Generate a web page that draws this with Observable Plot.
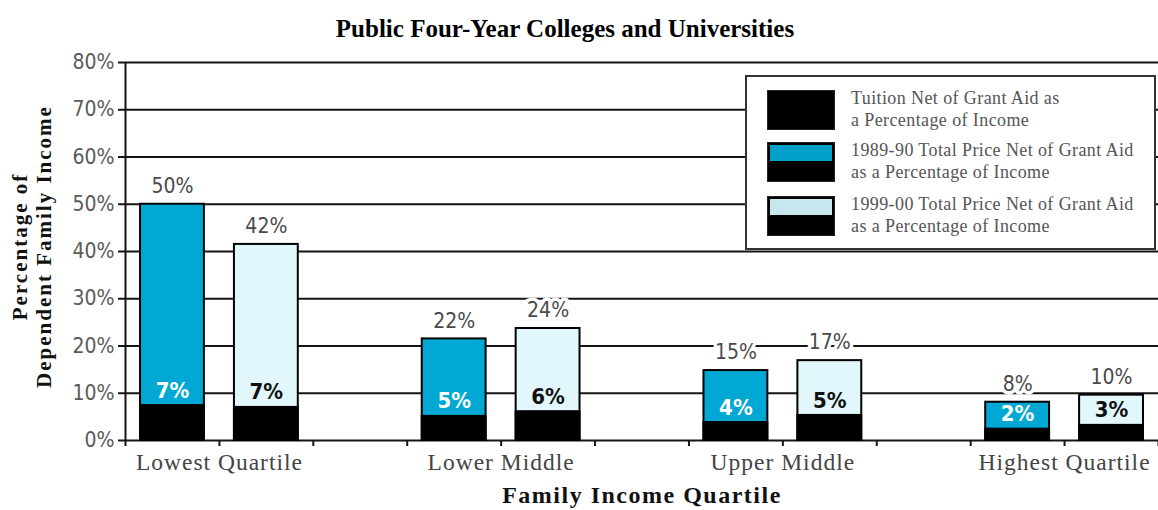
<!DOCTYPE html>
<html>
<head>
<meta charset="utf-8">
<script src="https://cdn.jsdelivr.net/npm/d3@7"></script>
<script src="https://cdn.jsdelivr.net/npm/@observablehq/plot@0.6"></script>
<style>
  html, body { margin: 0; padding: 0; background: #fff; }
  #wrap { position: relative; width: 1158px; height: 510px; overflow: hidden; }
  #title { height: 48px; width: 1130px; text-align: center; font-family: "Liberation Serif", "Times New Roman", serif;
           font-weight: bold; font-size: 25px; line-height: 58px; color: #000; }
  #legend { position: absolute; left: 745px; top: 75px; width: 407px; height: 171px; border: 2px solid #333;
            background: #fff; font-family: "Liberation Serif", serif; font-size: 18px; letter-spacing: 0.4px; color: #555; }
  .item { position: absolute; left: 20px; }
  .sw { position: absolute; left: 0; top: 0; width: 68px; height: 40px; border: 1px solid #222; box-sizing: border-box; background: #000; }
  .sw .top { position: absolute; left: 2px; right: 2px; top: 2px; height: 16px; }
  .txt { position: absolute; left: 84px; top: -2px; white-space: nowrap; line-height: 21.5px; }
</style>
</head>
<body>
<div id="wrap">
  <div id="title">Public Four-Year Colleges and Universities</div>
  <div id="chart"></div>
  <div id="legend"></div>
</div>
<script>
const quartiles = ["Lowest Quartile", "Lower Middle", "Upper Middle", "Highest Quartile"];
const seriesNames = ["1989-90", "1999-00"];
const total1989 = [50, 21.5, 14.8, 8.1];
const tuition1989 = [7.4, 5.1, 3.8, 2.4];
const total1999 = [41.5, 23.7, 16.9, 9.6];
const tuition1999 = [7.0, 6.1, 5.3, 3.2];
const yTicks = [0, 10, 20, 30, 40, 50, 60, 70, 80];
const xTitle = "Family Income Quartile";
const yTitle = "Percentage of\nDependent Family Income";
const legendLabels = [
  "Tuition Net of Grant Aid as<br>a Percentage of Income",
  "1989-90 Total Price Net of Grant Aid<br>as a Percentage of Income",
  "1999-00 Total Price Net of Grant Aid<br>as a Percentage of Income"
];

const colors = {"1989-90": "#00a8d3", "1999-00": "#e2f7fb"};
const legendColors = [null, "#00a0c8", "#c8e6ee"];
const labelColors = {"1989-90": "#ffffff", "1999-00": "#111111"};

const rows = quartiles.flatMap((q, i) => [
  {q, series: seriesNames[0], slot: i * 3, total: total1989[i], tuition: tuition1989[i]},
  {q, series: seriesNames[1], slot: i * 3 + 1, total: total1999[i], tuition: tuition1999[i]}
]);
const nSlots = quartiles.length * 3 - 1;

const sans = "'DejaVu Sans Condensed', 'DejaVu Sans', sans-serif";
const serif = "'Liberation Serif', serif";

const chart = Plot.plot({
  width: 1158,
  height: 462,
  marginLeft: 125,
  marginRight: 0,
  marginTop: 14,
  marginBottom: 70,
  style: {fontFamily: sans, background: "white"},
  x: {type: "linear", domain: [0, nSlots], axis: null},
  y: {domain: [0, 80], axis: null},
  marks: [
    Plot.ruleY(yTicks, {stroke: "#151515", strokeWidth: 2}),
    Plot.axisY({ticks: yTicks, tickSize: 7, tickPadding: 4, tickFormat: d => d + "%", stroke: "#151515",
                strokeWidth: 2, fill: "#5a5a5a", fontSize: 21, label: null}),
    Plot.axisX({ticks: d3.range(0, nSlots + 1), tickSize: 6, tickFormat: () => "", stroke: "#151515",
                strokeWidth: 2, label: null}),
    Plot.ruleX([0], {stroke: "#151515", strokeWidth: 2}),
    Plot.rectY(rows, {x1: d => d.slot + 0.16, x2: d => d.slot + 0.84, y1: 0, y2: "total",
                      fill: d => colors[d.series], stroke: "#000", strokeWidth: 2}),
    Plot.rectY(rows, {x1: d => d.slot + 0.16, x2: d => d.slot + 0.84, y1: 0, y2: "tuition",
                      fill: "#000", stroke: "#000", strokeWidth: 2}),
    Plot.text(rows, {x: d => d.slot + 0.5, y: "total", text: d => Math.round(d.total) + "%", dy: -18,
                     fontSize: 21, fill: "#4a4a4a", stroke: "white", strokeWidth: 7, paintOrder: "stroke"}),
    Plot.text(rows, {x: d => d.slot + 0.5, y: "tuition", text: d => Math.round(d.tuition) + "%", dy: -15,
                     fontSize: 22, fontWeight: "bold", fill: d => labelColors[d.series]}),
    Plot.text(quartiles, {x: (d, i) => i * 3 + 1, frameAnchor: "bottom", dy: 29, text: d => d,
                          fontSize: 23.5, fill: "#444", fontFamily: serif}),
    Plot.text([xTitle], {frameAnchor: "bottom", dy: 62, text: d => d,
                          fontSize: 24, fontWeight: "bold", fill: "#111", fontFamily: serif}),
    Plot.text([yTitle], {frameAnchor: "left", textAnchor: "middle",
                          lineAnchor: "middle", dx: -94, dy: -5, rotate: -90,
                          text: d => d, lineHeight: 1.15, fontSize: 21, fontWeight: "bold", fill: "#111", fontFamily: serif})
  ]
});
document.getElementById("chart").appendChild(chart);

// widen the serif texts a little to match the reference's wider slab face
d3.select(chart).selectAll("text").each(function () {
  const t = this.textContent;
  if (quartiles.includes(t)) this.style.letterSpacing = "1px";
  else if (t === xTitle) this.style.letterSpacing = "1.5px";
  else if (t.includes("Dependent")) this.style.letterSpacing = "2px";
});

const legend = document.getElementById("legend");
const tops = [13, 65, 119];
legendLabels.forEach((lab, i) => {
  const item = document.createElement("div");
  item.className = "item";
  item.style.top = tops[i] + "px";
  const sw = document.createElement("div");
  sw.className = "sw";
  if (legendColors[i]) {
    const t = document.createElement("div");
    t.className = "top";
    t.style.background = legendColors[i];
    sw.appendChild(t);
  }
  const tx = document.createElement("div");
  tx.className = "txt";
  tx.innerHTML = lab;
  item.appendChild(sw);
  item.appendChild(tx);
  legend.appendChild(item);
});
</script>
</body>
</html>
